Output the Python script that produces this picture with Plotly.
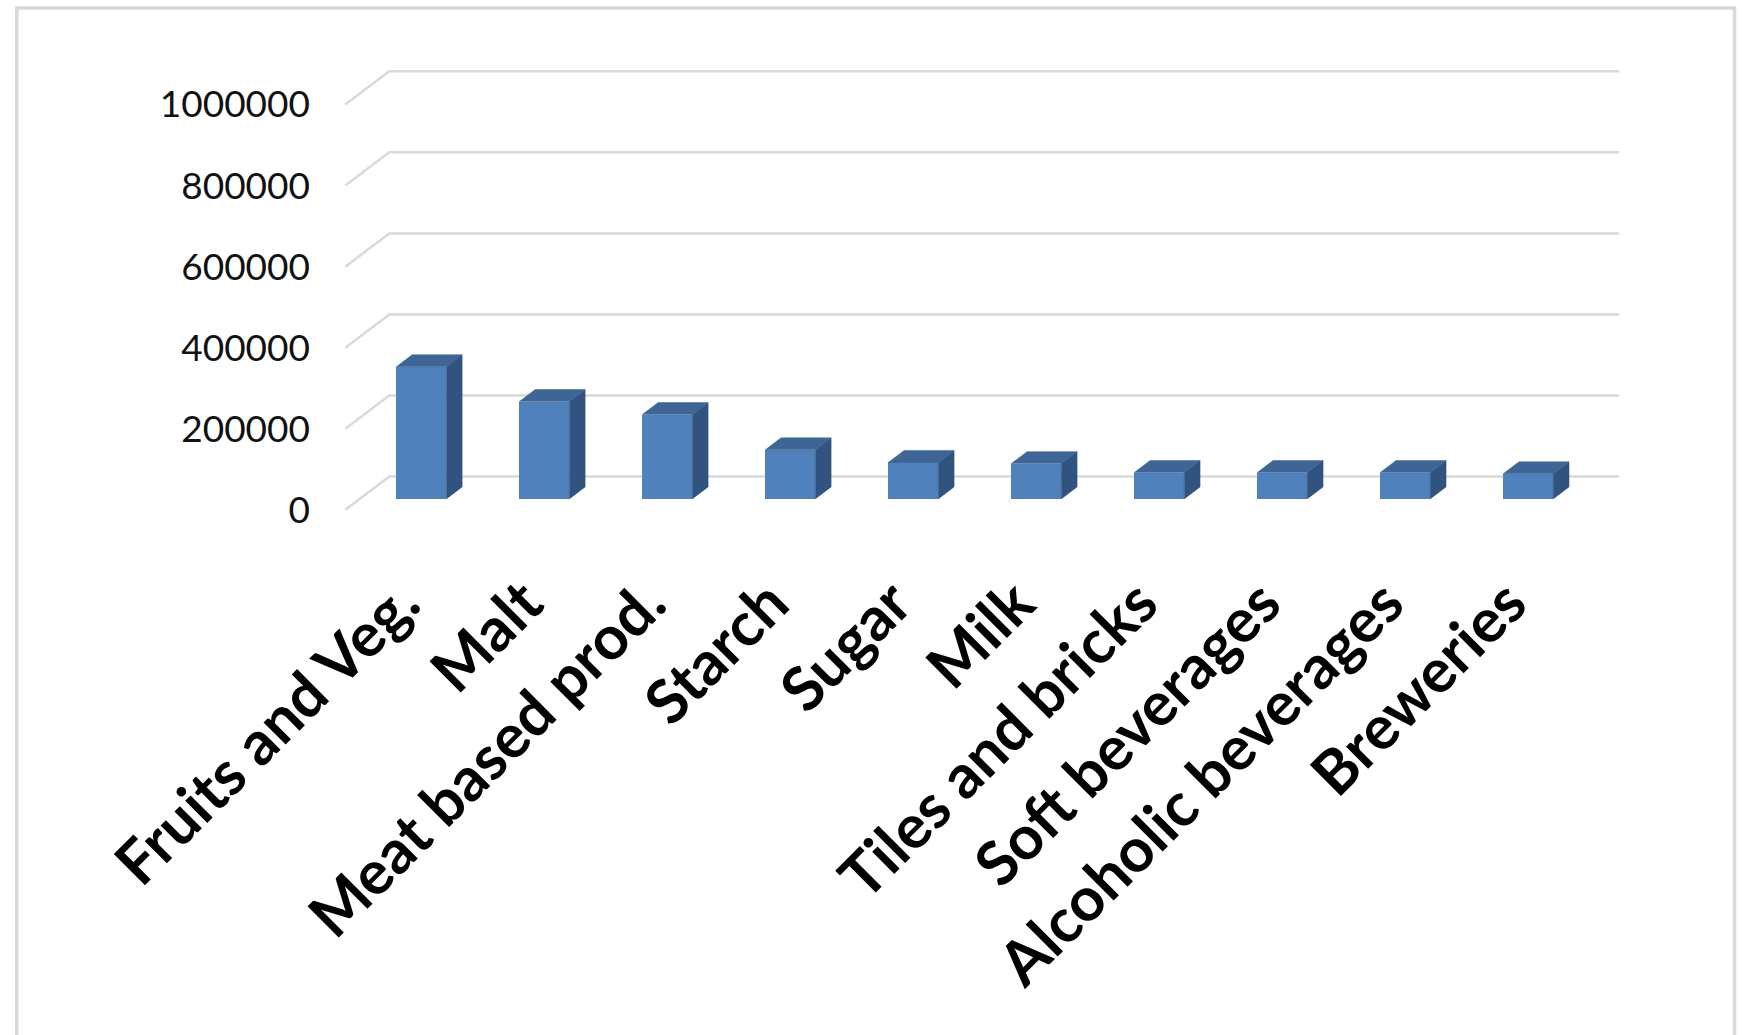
import plotly.graph_objects as go

# ---- data -------------------------------------------------------------
categories = ["Fruits and Veg.", "Malt", "Meat based prod.", "Starch", "Sugar",
              "Milk", "Tiles and bricks", "Soft beverages", "Alcoholic beverages",
              "Breweries"]
values = [326000, 240000, 208000, 121000, 90000, 87000, 65000, 65000, 65000, 62000]
y_ticks = [0, 200000, 400000, 600000, 800000, 1000000]
y_tick_labels = ["0", "200000", "400000", "600000", "800000", "1000000"]

# ---- pseudo-3D geometry (oblique projection) --------------------------
FIG_W, FIG_H = 1742, 1035
PX_PER_CAT = 123.0             # horizontal pixels per category slot
PX_PER_VAL = 81.1 / 200000.0   # vertical pixels per value unit
DEPTH_PX_X, DEPTH_PX_Y = 44.0, 33.3   # full-depth offset of the back wall
DX = DEPTH_PX_X / PX_PER_CAT          # depth offset in x data units
DY = DEPTH_PX_Y / PX_PER_VAL          # depth offset in y data units
F_FRONT, F_BACK = 0.33, 0.69          # depth span occupied by the bars
BAR_W = 50.0 / PX_PER_CAT
LABEL_SHIFT = -0.16                   # category labels sit a bit left of the bars

FRONT_LEFT_PX, FRONT_ZERO_PX = 345.6, 510.0
X_RANGE = [-0.1, len(categories) + DX + 0.08]
Y_RANGE = [-25000, 1100000]

m_l = FRONT_LEFT_PX + X_RANGE[0] * PX_PER_CAT
m_r = FIG_W - (FRONT_LEFT_PX + X_RANGE[1] * PX_PER_CAT)
m_b = FIG_H - (FRONT_ZERO_PX - Y_RANGE[0] * PX_PER_VAL)
m_t = FRONT_ZERO_PX - Y_RANGE[1] * PX_PER_VAL

FRONT_C = "#4f81bd"
TOP_C = "#3d6595"
SIDE_C = "#31537f"
GRID_C = "#d9d9d9"

fig = go.Figure()

# gridlines: diagonal on the side wall, then along the back wall (behind bars)
for v in y_ticks:
    path = (f"M 0,{v} L {DX},{v + DY} L {len(categories) + DX},{v + DY}")
    fig.add_shape(type="path", path=path, xref="x", yref="y",
                  line=dict(color=GRID_C, width=2.5), layer="below")

# bars: front face as a bar trace, top and side faces as filled polygons
centers = [i + 0.5 + F_FRONT * DX for i in range(len(categories))]
b_front = F_FRONT * DY
b_back = F_BACK * DY
ddx = (F_BACK - F_FRONT) * DX

fig.add_trace(go.Bar(x=centers, y=values, base=b_front, width=BAR_W,
                     marker=dict(color=FRONT_C, line=dict(width=0)),
                     showlegend=False, hovertext=categories))

for c, v in zip(centers, values):
    xl, xr = c - BAR_W / 2, c + BAR_W / 2
    # side face
    fig.add_trace(go.Scatter(
        x=[xr, xr, xr + ddx, xr + ddx, xr],
        y=[b_front, v + b_front, v + b_back, b_back, b_front],
        fill="toself", fillcolor=SIDE_C, mode="lines",
        line=dict(color=SIDE_C, width=0.5), hoverinfo="skip", showlegend=False))
    # top face
    fig.add_trace(go.Scatter(
        x=[xl, xr, xr + ddx, xl + ddx, xl],
        y=[v + b_front, v + b_front, v + b_back, v + b_back, v + b_front],
        fill="toself", fillcolor=TOP_C, mode="lines",
        line=dict(color=TOP_C, width=0.5), hoverinfo="skip", showlegend=False))

# outer chart frame (open at the bottom edge of the page)
def px_to_paper_x(px):
    return (px - m_l) / (FIG_W - m_l - m_r)

def px_to_paper_y(py):
    return (FIG_H - m_b - py) / (FIG_H - m_t - m_b)

fig.add_shape(type="rect", xref="paper", yref="paper",
              x0=px_to_paper_x(17), x1=px_to_paper_x(1735),
              y0=px_to_paper_y(1060), y1=px_to_paper_y(8),
              line=dict(color="#d9d9d9", width=3.5), layer="below")

fig.update_layout(
    width=FIG_W, height=FIG_H,
    margin=dict(l=m_l, r=m_r, t=m_t, b=m_b, pad=0),
    paper_bgcolor="white", plot_bgcolor="white",
    barmode="overlay", bargap=0,
    xaxis=dict(range=X_RANGE, tickmode="array",
               tickvals=[c + LABEL_SHIFT for c in centers],
               ticktext=categories, tickangle=-45, showgrid=False,
               zeroline=False, showline=False, ticks="",
               ticklabelstandoff=34,
               tickfont=dict(family="Lato", size=61, color="#000000",
                             weight="bold")),
    yaxis=dict(range=Y_RANGE, tickmode="array", tickvals=y_ticks,
               ticktext=y_tick_labels, showgrid=False, zeroline=False,
               showline=False, ticks="", ticklabelstandoff=22,
               tickfont=dict(family="Lato", size=37, color="#111111")),
)

fig.write_html("out.html")
